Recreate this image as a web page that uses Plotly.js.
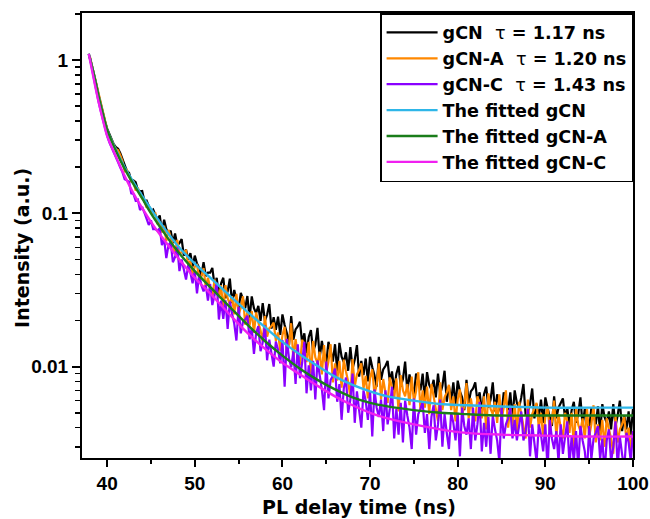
<!DOCTYPE html>
<html>
<head>
<meta charset="utf-8">
<script src="https://cdn.plot.ly/plotly-3.0.1.min.js"></script>
<style>html,body{margin:0;padding:0;background:#fff;}#chart{width:650px;height:519px;}</style>
</head>
<body>
<div id="chart"></div>
<script>
// Raw decay data: channels start at 38 ns, 0.25 ns apart
const timeStart = 38;
const timeStep = 0.25;

const gCN = [
1.06,0.93,0.80,0.70, 0.60,0.52,0.46,0.40, 0.357,0.327,0.301,0.283, 0.270,0.264,0.247,0.226,
0.213,0.189,0.184,0.163, 0.164,0.160,0.142,0.139, 0.140,0.120,0.121,0.111, 0.103,0.106,0.098,0.091,
0.097,0.076,0.091,0.079, 0.074,0.077,0.064,0.074, 0.062,0.064,0.068,0.053, 0.058,0.050,0.055,0.045,
0.053,0.047,0.044,0.039, 0.048,0.039,0.041,0.041, 0.044,0.034,0.038,0.029, 0.035,0.038,0.028,0.031,
0.0375,0.026,0.0316,0.027, 0.0238,0.0303,0.0275,0.024, 0.0289,0.0207,0.0287,0.0241, 0.0224,0.0249,0.0199,0.026,
0.0199,0.0218,0.0256,0.0177, 0.021,0.0174,0.0212,0.0161, 0.0219,0.0187,0.0166,0.0138, 0.0214,0.0150,0.0175,0.0183,
0.0196,0.0143,0.0165,0.0122, 0.0156,0.0173,0.0125,0.0139, 0.0179,0.0114,0.0147,0.0121, 0.0105,0.0145,0.0128,0.0108,
0.0140,0.0093,0.0143,0.0116, 0.0107,0.0124,0.0094,0.0134, 0.0097,0.0111,0.0138,0.0086, 0.0109,0.0088,0.0113,0.0080,
0.0116,0.0099,0.0088,0.0074, 0.0116,0.0082,0.0096,0.0101, 0.0109,0.0080,0.0093,0.0070, 0.0090,0.0101,0.0074,0.0083,
0.0108,0.0069,0.0089,0.0075, 0.0066,0.0090,0.0081,0.0070, 0.0090,0.0060,0.0092,0.0076, 0.0071,0.0082,0.0063,0.0090,
0.0066,0.0075,0.0094,0.0059, 0.0075,0.0060,0.0079,0.0056, 0.0081,0.0069,0.0063,0.0052, 0.0082,0.0058,0.0069,0.0072,
0.0079,0.0059,0.0068,0.0051, 0.0066,0.0074,0.0054,0.0061, 0.0079,0.0051,0.0066,0.0055, 0.0049,0.0068,0.0061,0.0052,
0.0068,0.0045,0.0070,0.0058, 0.0054,0.0063,0.0077,0.0048, 0.0050,0.0057,0.0072,0.0046, 0.0057,0.0046,0.0061,0.0043,
0.0063,0.0054,0.0048,0.0041, 0.0064,0.0046,0.0054,0.0058, 0.0062,0.0046,0.0054,0.0041, 0.0052,0.0059,0.0043,0.0049,
0.0063,0.0041,0.0053,0.0045, 0.0039,0.0054,0.0049,0.0042, 0.0055,0.0037,0.0057,0.0047, 0.0043,0.0051,0.0039,0.0057,
0.0041,0.0048,0.0060,0.0038, 0.0048,0.0039,0.0051,0.0036, 0.0053
];

const gCN_A = [
1.07,0.93,0.80,0.69, 0.59,0.52,0.455,0.40, 0.352,0.322,0.298,0.279, 0.263,0.258,0.240,0.219,
0.188,0.192,0.176,0.161, 0.161,0.141,0.147,0.133, 0.125,0.122,0.109,0.113, 0.101,0.099,0.100,0.085,
0.088,0.075,0.083,0.066, 0.078,0.069,0.062,0.055, 0.067,0.054,0.056,0.056, 0.057,0.046,0.049,0.040,
0.045,0.046,0.038,0.039, 0.044,0.033,0.038,0.033, 0.028,0.037,0.033,0.028, 0.034,0.023,0.034,0.028,
0.0257,0.0288,0.0219,0.0298, 0.0218,0.0242,0.0288,0.0188, 0.0228,0.0185,0.0230,0.0166, 0.0226,0.0194,0.0173,0.0146,
0.0214,0.0157,0.0178,0.0184, 0.0194,0.0147,0.0167,0.0127, 0.0160,0.0182,0.0123,0.0140, 0.0192,0.0110,0.0151,0.0120,
0.0102,0.0150,0.0130,0.0107, 0.0145,0.0086,0.0147,0.0115, 0.0105,0.0125,0.0089,0.0138, 0.0092,0.0108,0.0140,0.0079,
0.0105,0.0081,0.0109,0.0073, 0.0111,0.0093,0.0080,0.0063, 0.0112,0.0074,0.0089,0.0095, 0.0105,0.0072,0.0087,0.0062,
0.0084,0.0096,0.0066,0.0076, 0.0105,0.0061,0.0083,0.0068, 0.0058,0.0085,0.0074,0.0062, 0.0084,0.0051,0.0088,0.0070,
0.0064,0.0077,0.0056,0.0086, 0.0059,0.0069,0.0092,0.0052, 0.0070,0.0054,0.0074,0.0049, 0.0077,0.0064,0.0056,0.0044,
0.0079,0.0052,0.0063,0.0068, 0.0076,0.0052,0.0064,0.0044, 0.0061,0.0071,0.0049,0.0055, 0.0078,0.0046,0.0062,0.0050,
0.0044,0.0064,0.0057,0.0046, 0.0064,0.0039,0.0067,0.0053, 0.0049,0.0059,0.0043,0.0066, 0.0045,0.0054,0.0070,0.0040,
0.0054,0.0041,0.0057,0.0037, 0.0059,0.0049,0.0043,0.0034, 0.0061,0.0040,0.0049,0.0053, 0.0058,0.0040,0.0050,0.0035,
0.0047,0.0055,0.0038,0.0044, 0.0060,0.0035,0.0049,0.0040, 0.0034,0.0050,0.0044,0.0037, 0.0050,0.0030,0.0053,0.0042,
0.0038,0.0046,0.0034,0.0053, 0.0035,0.0042,0.0056,0.0032, 0.0042,0.0033,0.0045,0.0030, 0.0046,0.0039,0.0034,0.0027,
0.0048,0.0032,0.0039,0.0042, 0.0047,0.0033,0.0040,0.0028, 0.0038
];

const gCN_C = [
1.05,0.88,0.74,0.63, 0.54,0.47,0.41,0.36, 0.32,0.29,0.267,0.248, 0.232,0.215,0.199,0.185,
0.167,0.164,0.161,0.135, 0.134,0.121,0.123,0.105, 0.110,0.101,0.093,0.084, 0.090,0.079,0.079,0.077,
0.080,0.062,0.068,0.051, 0.062,0.065,0.048,0.052, 0.060,0.042,0.050,0.043, 0.037,0.046,0.041,0.035,
0.042,0.030,0.040,0.034, 0.031,0.034,0.027,0.0345, 0.0252,0.0291,0.0354,0.0203, 0.0270,0.0205,0.0271,0.0176,
0.0266,0.0222,0.0191,0.0148, 0.0246,0.0165,0.0196,0.0203, 0.0215,0.0151,0.0178,0.0121, 0.0166,0.0184,0.0126,0.0144,
0.0186,0.0110,0.0150,0.0122, 0.0100,0.0146,0.0129,0.0105, 0.0149,0.0074,0.0152,0.0113, 0.0099,0.0126,0.0077,0.0140,
0.0084,0.0106,0.0145,0.0067, 0.0102,0.0070,0.0109,0.0061, 0.0110,0.0088,0.0071,0.0052, 0.0108,0.0062,0.0082,0.0087,
0.0097,0.0059,0.0077,0.0045, 0.0072,0.0085,0.0050,0.0061, 0.0090,0.0043,0.0069,0.0052, 0.0040,0.0070,0.0060,0.0045,
0.0069,0.0035,0.0071,0.0054, 0.0047,0.0061,0.0038,0.0070, 0.0042,0.0053,0.0074,0.0034, 0.0053,0.0036,0.0058,0.0032,
0.0060,0.0048,0.0040,0.0029, 0.0062,0.0036,0.0049,0.0053, 0.0059,0.0037,0.0049,0.0029, 0.0047,0.0056,0.0033,0.0042,
0.0061,0.0030,0.0049,0.0037, 0.0029,0.0050,0.0043,0.0033, 0.0050,0.0026,0.0054,0.0041, 0.0036,0.0046,0.0029,0.0054,
0.0033,0.0042,0.0059,0.0028, 0.0043,0.0030,0.0047,0.0027, 0.0048,0.0039,0.0033,0.0024, 0.0054,0.0034,0.0042,0.0046,
0.0054,0.0034,0.0045,0.0033, 0.0042,0.0051,0.0033,0.0038, 0.0053,0.0026,0.0042,0.0032, 0.0024,0.0042,0.0036,0.0028,
0.0042,0.0021,0.0045,0.0034, 0.0029,0.0038,0.0024,0.0042, 0.0027,0.0035,0.0044,0.0023, 0.0035,0.0024,0.0038,0.0022,
0.0041,0.0033,0.0028,0.0020, 0.0041,0.0025,0.0034,0.0037, 0.0041,0.0025,0.0034,0.0020, 0.0033,0.0039,0.0024,0.0030,
0.0044,0.0022,0.0035,0.0027, 0.0021,0.0037,0.0032,0.0024, 0.0038
];

// Fitted curves
const fitTime = [37.9,38.5,39,39.5,40,41,42,43,44,45,46,48,50,52,54,56,58,60,62,64,66,68,70,72,75,78,81,85,90,95,100];
const fitGCN   = [1.10,0.80,0.59,0.45,0.35,0.26,0.20,0.16,0.13,0.107,0.088,0.062,0.047,0.037,0.029,0.0228,0.0181,0.0145,0.0120,0.0101,0.0086,0.0076,0.0069,0.0064,0.0060,0.0057,0.0056,0.0055,0.0054,0.0054,0.0054];
const fitGCN_A = [1.10,0.80,0.59,0.45,0.35,0.255,0.195,0.155,0.125,0.100,0.082,0.057,0.042,0.032,0.0245,0.0188,0.0147,0.0118,0.0097,0.0082,0.0071,0.0063,0.0058,0.0055,0.0052,0.0050,0.0049,0.0048,0.0048,0.0048,0.0048];
const fitGCN_C = [1.10,0.74,0.54,0.41,0.32,0.235,0.175,0.135,0.108,0.088,0.073,0.052,0.038,0.029,0.0218,0.0166,0.0131,0.0106,0.0089,0.0075,0.0064,0.0056,0.0050,0.0046,0.0042,0.0039,0.0037,0.0036,0.00355,0.0035,0.0035];

const seriesNames = [
  "gCN\u00a0\u00a0<span style='font-weight:normal'>τ</span> = 1.17 ns",
  "gCN-A\u00a0\u00a0<span style='font-weight:normal'>τ</span> = 1.20 ns",
  "gCN-C\u00a0\u00a0<span style='font-weight:normal'>τ</span> = 1.43 ns",
  "The fitted gCN",
  "The fitted gCN-A",
  "The fitted gCN-C"
];
const xTicks = [40,50,60,70,80,90,100];
const yTicks = [0.01,0.1,1];
const yTickText = ["0.01","0.1","1"];
const xTitle = 'PL delay time (ns)';
const yTitle = 'Intensity (a.u.)';

const rawStyle = (c) => ({color: c, width: 2.2});
const fitStyle = (c) => ({color: c, width: 2.4, shape: 'spline'});

const traces = [
  {type:'scatter', mode:'lines', x0: timeStart, dx: timeStep, y: gCN,   name: seriesNames[0], line: rawStyle('#000000')},
  {type:'scatter', mode:'lines', x0: timeStart, dx: timeStep, y: gCN_A, name: seriesNames[1], line: rawStyle('#FF8800')},
  {type:'scatter', mode:'lines', x0: timeStart, dx: timeStep, y: gCN_C, name: seriesNames[2], line: rawStyle('#8A00FF')},
  {type:'scatter', mode:'lines', x: fitTime, y: fitGCN,   name: seriesNames[3], line: fitStyle('#2EB6E8')},
  {type:'scatter', mode:'lines', x: fitTime, y: fitGCN_A, name: seriesNames[4], line: fitStyle('#1A7D1A')},
  {type:'scatter', mode:'lines', x: fitTime, y: fitGCN_C, name: seriesNames[5], line: fitStyle('#F020F0')}
];

const minorY = [];
[0.001,0.01,0.1,1].forEach(d => { for (let k=2;k<=9;k++) minorY.push(d*k); });

const fam = 'Liberation Sans, Arial, sans-serif';
const wideFam = 'DejaVu Sans, Liberation Sans, sans-serif';
const tickFont = {family: fam, size: 19, color: '#000', weight: 'bold'};
const titleFont = {family: wideFam, size: 19, color: '#000', weight: 'bold'};

const layout = {
  width: 650, height: 519,
  margin: {l: 82, r: 17, t: 13, b: 61},
  paper_bgcolor: '#fff', plot_bgcolor: '#fff',
  font: tickFont,
  showlegend: true,
  legend: {
    x: 0.541, y: 1, xanchor: 'left', yanchor: 'top',
    bordercolor: '#000', borderwidth: 1.5, bgcolor: '#fff',
    font: {family: wideFam, size: 17.6, color: '#000', weight: 'bold'},
    itemwidth: 51, tracegroupgap: 0
  },
  annotations: [
    {text: yTitle, xref: 'paper', yref: 'paper', x: -0.109, y: 0.472, textangle: -90,
     xanchor: 'center', yanchor: 'middle', showarrow: false, font: titleFont},
    {text: xTitle, xref: 'paper', yref: 'paper', x: 0.503, y: -0.109,
     xanchor: 'center', yanchor: 'middle', showarrow: false, font: titleFont}
  ],
  xaxis: {
    range: [37.13, 100],
    tickvals: xTicks,
    ticks: 'outside', ticklen: 7, tickwidth: 2, tickcolor: '#000',
    minor: {dtick: 5, tick0: 0, ticks: 'outside', ticklen: 4, tickwidth: 2, tickcolor: '#000', showgrid: false},
    showline: true, linewidth: 2, linecolor: '#000', mirror: true,
    showgrid: false, zeroline: false,
    tickfont: tickFont,
    automargin: false
  },
  yaxis: {
    type: 'log',
    range: [-2.596, 0.307],
    tickvals: yTicks, ticktext: yTickText,
    ticks: 'outside', ticklen: 8, tickwidth: 2, tickcolor: '#000',
    minor: {tickvals: minorY, ticks: 'outside', ticklen: 5, tickwidth: 1.5, tickcolor: '#000', showgrid: false},
    showline: true, linewidth: 2, linecolor: '#000', mirror: true,
    showgrid: false, zeroline: false,
    tickfont: tickFont,
    automargin: false
  }
};

Plotly.newPlot('chart', traces, layout, {displayModeBar: false, staticPlot: true});
</script>
</body>
</html>
